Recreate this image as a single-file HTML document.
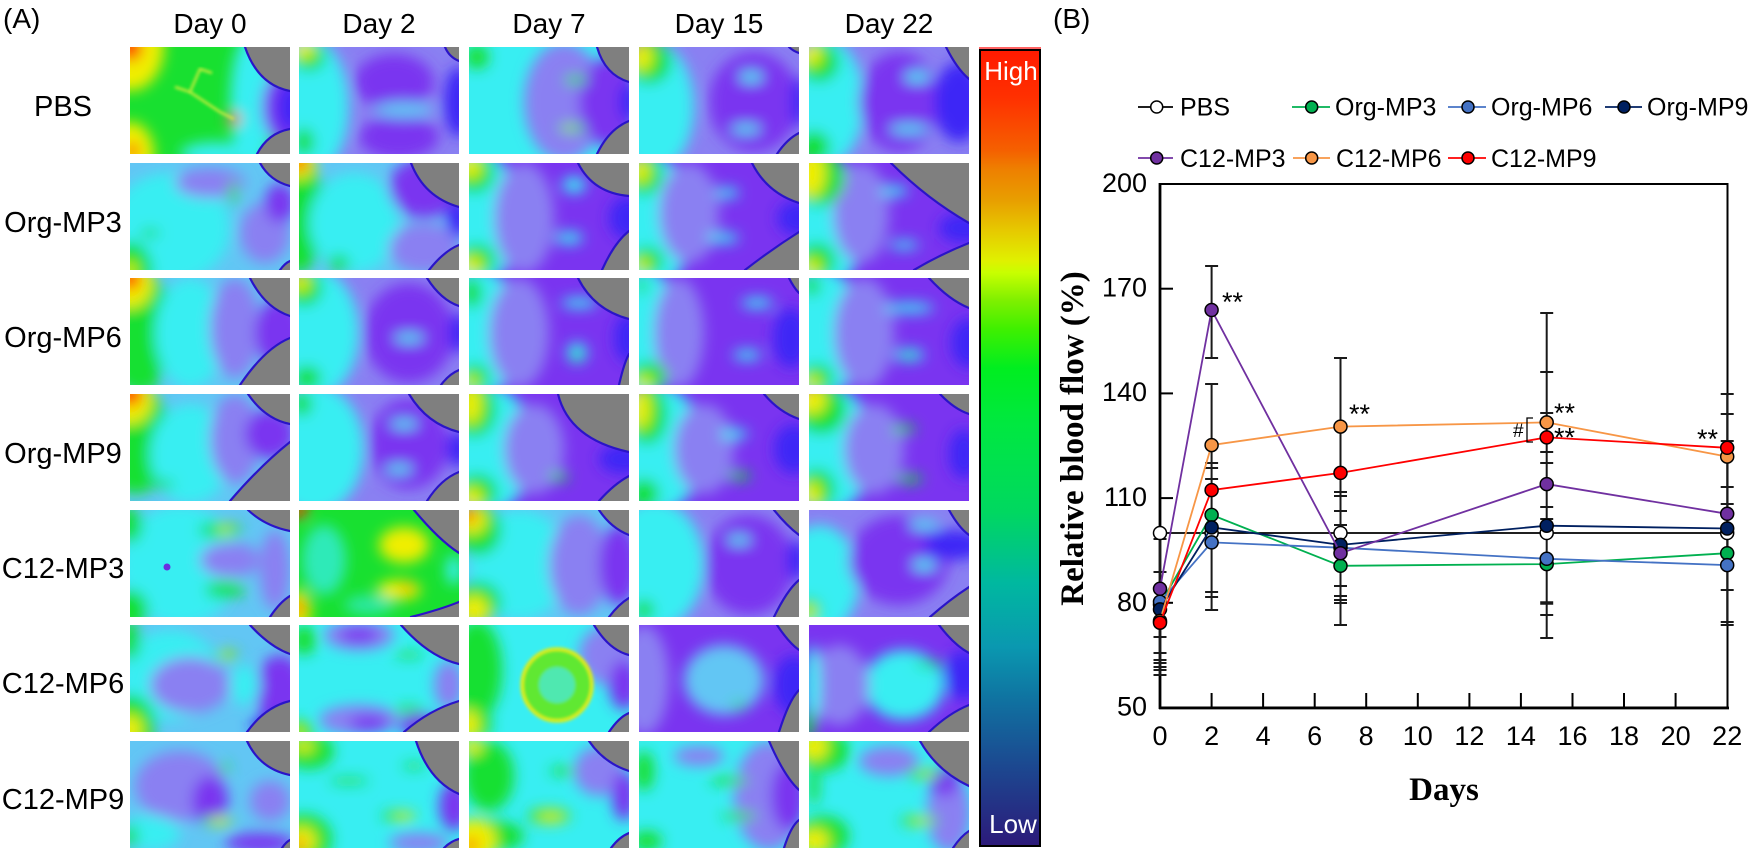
<!DOCTYPE html>
<html><head><meta charset="utf-8"><style>
html,body{margin:0;padding:0;background:#fff;}
body{width:1750px;height:849px;overflow:hidden;position:relative;}
svg{position:absolute;left:0;top:0;}
.gy{fill:#7f7f7f;stroke:#2a14c8;stroke-width:2.2;}
.t{font-family:"Liberation Sans",Arial,sans-serif;fill:#000;}
.s{font-family:"Liberation Serif","Times New Roman",serif;font-weight:bold;fill:#000;}
</style></head><body>
<svg width="1750" height="849" viewBox="0 0 1750 849" xmlns="http://www.w3.org/2000/svg">
<defs>
<clipPath id="ic"><rect width="160" height="107"/></clipPath>
<filter id="f" x="-30%" y="-30%" width="160%" height="160%"><feGaussianBlur stdDeviation="7"/></filter>
<filter id="f2"><feGaussianBlur stdDeviation="1.5"/></filter>
<linearGradient id="cb" x1="0" y1="0" x2="0" y2="1">
<stop offset="0" stop-color="#ff1a00"/><stop offset="0.06" stop-color="#ff3000"/><stop offset="0.126" stop-color="#f56000"/><stop offset="0.15" stop-color="#ee8000"/><stop offset="0.19" stop-color="#e8a000"/><stop offset="0.226" stop-color="#e6c800"/><stop offset="0.264" stop-color="#e0f000"/><stop offset="0.28" stop-color="#c8ff00"/><stop offset="0.314" stop-color="#80f000"/><stop offset="0.35" stop-color="#40f000"/><stop offset="0.40" stop-color="#00ee20"/><stop offset="0.47" stop-color="#00e840"/><stop offset="0.58" stop-color="#00d860"/><stop offset="0.67" stop-color="#00b8a0"/><stop offset="0.75" stop-color="#0a98b0"/><stop offset="0.82" stop-color="#1070a0"/><stop offset="0.90" stop-color="#1c4890"/><stop offset="1" stop-color="#2c1a7a"/>
</linearGradient>
</defs>

<!-- Panel A labels -->
<text class="t" x="3" y="28" font-size="28">(A)</text>
<text class="t" x="210" y="33" font-size="28" text-anchor="middle">Day 0</text>
<text class="t" x="379" y="33" font-size="28" text-anchor="middle">Day 2</text>
<text class="t" x="549" y="33" font-size="28" text-anchor="middle">Day 7</text>
<text class="t" x="719" y="33" font-size="28" text-anchor="middle">Day 15</text>
<text class="t" x="889" y="33" font-size="28" text-anchor="middle">Day 22</text>
<text class="t" x="63" y="116" font-size="29" text-anchor="middle">PBS</text>
<text class="t" x="63" y="232" font-size="29" text-anchor="middle">Org-MP3</text>
<text class="t" x="63" y="347" font-size="29" text-anchor="middle">Org-MP6</text>
<text class="t" x="63" y="463" font-size="29" text-anchor="middle">Org-MP9</text>
<text class="t" x="63" y="578" font-size="29" text-anchor="middle">C12-MP3</text>
<text class="t" x="63" y="693" font-size="29" text-anchor="middle">C12-MP6</text>
<text class="t" x="63" y="809" font-size="29" text-anchor="middle">C12-MP9</text>

<!-- Row 1 PBS -->
<g transform="translate(130,47)"><g clip-path="url(#ic)"><rect width="160" height="107" fill="#18e030"/><g filter="url(#f)">
<ellipse cx="0" cy="0" rx="34" ry="44" fill="#f0ee00"/><ellipse cx="0" cy="0" rx="12" ry="14" fill="#ff2a00"/><ellipse cx="0" cy="107" rx="24" ry="32" fill="#f0ee00"/><ellipse cx="2" cy="104" rx="6" ry="8" fill="#ff2a00"/><ellipse cx="122" cy="55" rx="22" ry="70" fill="#38eef2"/><ellipse cx="85" cy="107" rx="35" ry="12" fill="#38eef2"/><ellipse cx="160" cy="60" rx="28" ry="40" fill="#7a34f0"/><ellipse cx="160" cy="60" rx="12" ry="25" fill="#3c26f6"/><ellipse cx="104" cy="72" rx="7" ry="6" fill="#ff2a00"/></g>
<polyline points="45,40 60,45 75,55 90,65 104,72" fill="none" stroke="#e8f040" stroke-width="2" filter="url(#f2)"/><polyline points="60,45 70,22 82,26" fill="none" stroke="#e8f040" stroke-width="2" filter="url(#f2)"/>
<path class="gy" d="M115 -4 L115 0 Q128 38 160 44 L164 44 L164 -4Z"/><path class="gy" d="M127 111 L127 107 Q138 86 160 82 L164 82 L164 111Z"/></g></g>

<g transform="translate(299,47)"><g clip-path="url(#ic)"><rect width="160" height="107" fill="#8a80f2"/><g filter="url(#f)">
<ellipse cx="10" cy="60" rx="40" ry="70" fill="#38eef2"/><ellipse cx="10" cy="10" rx="16" ry="14" fill="#18e030"/><ellipse cx="5" cy="3" rx="10" ry="8" fill="#f0ee00"/><ellipse cx="5" cy="95" rx="10" ry="14" fill="#18e030"/><ellipse cx="95" cy="35" rx="40" ry="28" fill="#7a34f0"/><ellipse cx="100" cy="90" rx="40" ry="22" fill="#7a34f0"/><ellipse cx="105" cy="63" rx="30" ry="8" fill="#62c6f4"/><ellipse cx="160" cy="55" rx="15" ry="35" fill="#3c26f6"/></g>
<path class="gy" d="M146 -4 L146 0 Q150 10 160 14 L164 14 L164 -4Z"/></g></g>

<g transform="translate(469,47)"><g clip-path="url(#ic)"><rect width="160" height="107" fill="#38eef2"/><g filter="url(#f)">
<ellipse cx="8" cy="10" rx="12" ry="12" fill="#18e030"/><ellipse cx="95" cy="55" rx="40" ry="60" fill="#8a80f2"/><ellipse cx="140" cy="55" rx="30" ry="45" fill="#7a34f0"/><ellipse cx="160" cy="55" rx="10" ry="20" fill="#3c26f6"/><ellipse cx="107" cy="33" rx="12" ry="4" fill="#18e030"/><ellipse cx="103" cy="81" rx="14" ry="4" fill="#18e030"/><ellipse cx="100" cy="81" rx="5" ry="2" fill="#f0ee00"/></g>
<path class="gy" d="M128 -4 L128 0 Q136 28 160 35 L164 35 L164 -4Z"/><path class="gy" d="M128 111 L128 107 Q140 82 160 74 L164 74 L164 111Z"/></g></g>

<g transform="translate(639,47)"><g clip-path="url(#ic)"><rect width="160" height="107" fill="#8a80f2"/><g filter="url(#f)">
<ellipse cx="15" cy="60" rx="40" ry="65" fill="#38eef2"/><ellipse cx="10" cy="15" rx="22" ry="22" fill="#18e030"/><ellipse cx="3" cy="10" rx="10" ry="14" fill="#f0ee00"/><ellipse cx="115" cy="55" rx="45" ry="50" fill="#7a34f0"/><ellipse cx="112" cy="30" rx="12" ry="5" fill="#38eef2"/><ellipse cx="107" cy="82" rx="15" ry="4" fill="#38eef2"/><ellipse cx="160" cy="55" rx="8" ry="25" fill="#3c26f6"/></g>
<path class="gy" d="M150 -4 L150 0 Q154 4 160 6 L164 6 L164 -4Z"/><path class="gy" d="M138 111 L138 107 Q148 92 160 86 L164 86 L164 111Z"/></g></g>

<g transform="translate(809,47)"><g clip-path="url(#ic)"><rect width="160" height="107" fill="#8a80f2"/><g filter="url(#f)">
<ellipse cx="15" cy="55" rx="40" ry="65" fill="#38eef2"/><ellipse cx="10" cy="15" rx="20" ry="20" fill="#18e030"/><ellipse cx="3" cy="8" rx="9" ry="11" fill="#f0ee00"/><ellipse cx="5" cy="100" rx="16" ry="16" fill="#18e030"/><ellipse cx="90" cy="55" rx="40" ry="50" fill="#7a34f0"/><ellipse cx="150" cy="55" rx="25" ry="40" fill="#3c26f6"/><ellipse cx="108" cy="30" rx="13" ry="5" fill="#38eef2"/><ellipse cx="100" cy="82" rx="20" ry="4" fill="#38eef2"/></g>
<path class="gy" d="M137 -4 L137 0 Q148 22 160 32 L164 32 L164 -4Z"/></g></g>

<!-- Row 2 Org-MP3 -->
<g transform="translate(130,163)"><g clip-path="url(#ic)"><rect width="160" height="107" fill="#62c6f4"/><g filter="url(#f)">
<ellipse cx="40" cy="65" rx="60" ry="55" fill="#38eef2"/><ellipse cx="80" cy="20" rx="35" ry="15" fill="#8a80f2"/><ellipse cx="135" cy="70" rx="25" ry="30" fill="#8a80f2"/><ellipse cx="0" cy="107" rx="22" ry="28" fill="#18e030"/><ellipse cx="0" cy="107" rx="6" ry="8" fill="#f0ee00"/><ellipse cx="103" cy="30" rx="4" ry="12" fill="#18e030"/><ellipse cx="20" cy="70" rx="10" ry="4" fill="#18e030"/><ellipse cx="150" cy="40" rx="15" ry="20" fill="#7a34f0"/></g>
<path class="gy" d="M130 -4 L130 0 Q140 18 160 23 L164 23 L164 -4Z"/><path class="gy" d="M150 111 L150 107 Q155 100 160 98 L164 98 L164 111Z"/></g></g>

<g transform="translate(299,163)"><g clip-path="url(#ic)"><rect width="160" height="107" fill="#62c6f4"/><g filter="url(#f)">
<ellipse cx="0" cy="50" rx="25" ry="60" fill="#18e030"/><ellipse cx="0" cy="0" rx="16" ry="16" fill="#f0ee00"/><ellipse cx="0" cy="0" rx="8" ry="8" fill="#ff2a00"/><ellipse cx="55" cy="60" rx="45" ry="50" fill="#38eef2"/><ellipse cx="125" cy="25" rx="35" ry="30" fill="#7a34f0"/><ellipse cx="125" cy="85" rx="35" ry="25" fill="#8a80f2"/><ellipse cx="160" cy="55" rx="12" ry="20" fill="#3c26f6"/><ellipse cx="40" cy="100" rx="10" ry="8" fill="#18e030"/></g>
<path class="gy" d="M112 -4 L112 0 Q125 34 160 44 L164 44 L164 -4Z"/><path class="gy" d="M130 111 L130 107 Q145 88 160 82 L164 82 L164 111Z"/></g></g>

<g transform="translate(469,163)"><g clip-path="url(#ic)"><rect width="160" height="107" fill="#7a34f0"/><g filter="url(#f)">
<ellipse cx="5" cy="55" rx="45" ry="70" fill="#38eef2"/><ellipse cx="55" cy="55" rx="30" ry="55" fill="#8a80f2"/><ellipse cx="5" cy="10" rx="20" ry="20" fill="#18e030"/><ellipse cx="2" cy="5" rx="10" ry="10" fill="#f0ee00"/><ellipse cx="8" cy="97" rx="18" ry="16" fill="#18e030"/><ellipse cx="3" cy="102" rx="10" ry="8" fill="#f0ee00"/><ellipse cx="105" cy="22" rx="12" ry="8" fill="#38eef2"/><ellipse cx="100" cy="75" rx="14" ry="6" fill="#38eef2"/><ellipse cx="160" cy="55" rx="20" ry="22" fill="#3c26f6"/></g>
<path class="gy" d="M109 -4 L109 0 Q124 30 160 33 L164 33 L164 -4Z"/><path class="gy" d="M133 111 L133 107 Q145 80 160 68 L164 68 L164 111Z"/></g></g>

<g transform="translate(639,163)"><g clip-path="url(#ic)"><rect width="160" height="107" fill="#7a34f0"/><g filter="url(#f)">
<ellipse cx="8" cy="60" rx="45" ry="70" fill="#38eef2"/><ellipse cx="50" cy="50" rx="30" ry="50" fill="#8a80f2"/><ellipse cx="5" cy="12" rx="18" ry="20" fill="#18e030"/><ellipse cx="2" cy="8" rx="8" ry="12" fill="#f0ee00"/><ellipse cx="8" cy="98" rx="16" ry="14" fill="#18e030"/><ellipse cx="3" cy="102" rx="7" ry="6" fill="#f0ee00"/><ellipse cx="88" cy="30" rx="12" ry="5" fill="#38eef2"/><ellipse cx="84" cy="75" rx="16" ry="5" fill="#38eef2"/><ellipse cx="160" cy="55" rx="22" ry="18" fill="#3c26f6"/></g>
<path class="gy" d="M113 -4 L113 0 Q128 30 160 40 L164 40 L164 -4Z"/><path class="gy" d="M106 111 L106 107 Q133 86 160 69 L164 69 L164 111Z"/></g></g>

<g transform="translate(809,163)"><g clip-path="url(#ic)"><rect width="160" height="107" fill="#7a34f0"/><g filter="url(#f)">
<ellipse cx="10" cy="60" rx="45" ry="70" fill="#38eef2"/><ellipse cx="52" cy="50" rx="28" ry="50" fill="#8a80f2"/><ellipse cx="10" cy="15" rx="26" ry="28" fill="#18e030"/><ellipse cx="2" cy="10" rx="14" ry="24" fill="#f0ee00"/><ellipse cx="8" cy="98" rx="18" ry="18" fill="#18e030"/><ellipse cx="3" cy="104" rx="8" ry="8" fill="#f0ee00"/><ellipse cx="85" cy="28" rx="14" ry="5" fill="#38eef2"/><ellipse cx="95" cy="82" rx="15" ry="4" fill="#38eef2"/><ellipse cx="155" cy="65" rx="25" ry="15" fill="#3c26f6"/></g>
<path class="gy" d="M82 -4 L82 0 Q118 36 160 60 L164 60 L164 -4Z"/><path class="gy" d="M105 111 L105 107 Q130 92 160 80 L164 80 L164 111Z"/></g></g>

<!-- Row 3 Org-MP6 -->
<g transform="translate(130,278)"><g clip-path="url(#ic)"><rect width="160" height="107" fill="#62c6f4"/><g filter="url(#f)">
<ellipse cx="5" cy="50" rx="38" ry="60" fill="#18e030"/><ellipse cx="0" cy="5" rx="22" ry="25" fill="#f0ee00"/><ellipse cx="0" cy="0" rx="10" ry="12" fill="#ff2a00"/><ellipse cx="60" cy="55" rx="35" ry="55" fill="#38eef2"/><ellipse cx="105" cy="50" rx="25" ry="50" fill="#8a80f2"/><ellipse cx="150" cy="55" rx="25" ry="35" fill="#7a34f0"/><ellipse cx="10" cy="100" rx="20" ry="15" fill="#18e030"/></g>
<path class="gy" d="M120 -4 L120 0 Q135 30 160 38 L164 38 L164 -4Z"/><path class="gy" d="M110 111 L110 107 Q135 70 160 60 L164 60 L164 111Z"/></g></g>

<g transform="translate(299,278)"><g clip-path="url(#ic)"><rect width="160" height="107" fill="#8a80f2"/><g filter="url(#f)">
<ellipse cx="15" cy="55" rx="45" ry="65" fill="#38eef2"/><ellipse cx="5" cy="10" rx="18" ry="18" fill="#18e030"/><ellipse cx="2" cy="5" rx="8" ry="8" fill="#f0ee00"/><ellipse cx="8" cy="100" rx="14" ry="12" fill="#18e030"/><ellipse cx="110" cy="55" rx="45" ry="50" fill="#7a34f0"/><ellipse cx="160" cy="55" rx="10" ry="20" fill="#3c26f6"/><ellipse cx="110" cy="60" rx="15" ry="4" fill="#38eef2"/></g>
<path class="gy" d="M128 -4 L128 0 Q142 22 160 28 L164 28 L164 -4Z"/><path class="gy" d="M142 111 L142 107 Q150 96 160 92 L164 92 L164 111Z"/></g></g>

<g transform="translate(469,278)"><g clip-path="url(#ic)"><rect width="160" height="107" fill="#7a34f0"/><g filter="url(#f)">
<ellipse cx="8" cy="55" rx="45" ry="65" fill="#38eef2"/><ellipse cx="50" cy="55" rx="30" ry="55" fill="#8a80f2"/><ellipse cx="3" cy="15" rx="10" ry="15" fill="#18e030"/><ellipse cx="6" cy="100" rx="14" ry="14" fill="#18e030"/><ellipse cx="2" cy="104" rx="6" ry="6" fill="#f0ee00"/><ellipse cx="110" cy="25" rx="18" ry="5" fill="#38eef2"/><ellipse cx="108" cy="75" rx="10" ry="10" fill="#38eef2"/><ellipse cx="108" cy="78" rx="4" ry="4" fill="#18e030"/><ellipse cx="160" cy="60" rx="15" ry="25" fill="#3c26f6"/></g>
<path class="gy" d="M109 -4 L109 0 Q125 32 160 41 L164 41 L164 -4Z"/><path class="gy" d="M150 111 L150 107 Q155 85 160 76 L164 76 L164 111Z"/></g></g>

<g transform="translate(639,278)"><g clip-path="url(#ic)"><rect width="160" height="107" fill="#7a34f0"/><g filter="url(#f)">
<ellipse cx="5" cy="55" rx="35" ry="65" fill="#38eef2"/><ellipse cx="40" cy="55" rx="25" ry="55" fill="#8a80f2"/><ellipse cx="10" cy="98" rx="18" ry="14" fill="#18e030"/><ellipse cx="5" cy="104" rx="8" ry="6" fill="#f0ee00"/><ellipse cx="3" cy="8" rx="5" ry="8" fill="#18e030"/><ellipse cx="118" cy="25" rx="16" ry="5" fill="#38eef2"/><ellipse cx="108" cy="77" rx="14" ry="5" fill="#38eef2"/><ellipse cx="152" cy="60" rx="18" ry="30" fill="#3c26f6"/></g>
<path class="gy" d="M150 -4 L150 0 Q155 10 160 15 L164 15 L164 -4Z"/></g></g>

<g transform="translate(809,278)"><g clip-path="url(#ic)"><rect width="160" height="107" fill="#7a34f0"/><g filter="url(#f)">
<ellipse cx="10" cy="55" rx="45" ry="65" fill="#38eef2"/><ellipse cx="55" cy="55" rx="30" ry="55" fill="#8a80f2"/><ellipse cx="3" cy="8" rx="8" ry="10" fill="#18e030"/><ellipse cx="8" cy="100" rx="16" ry="14" fill="#18e030"/><ellipse cx="3" cy="104" rx="8" ry="6" fill="#f0ee00"/><ellipse cx="100" cy="30" rx="25" ry="5" fill="#38eef2"/><ellipse cx="100" cy="77" rx="15" ry="6" fill="#38eef2"/><ellipse cx="100" cy="78" rx="4" ry="3" fill="#18e030"/><ellipse cx="160" cy="65" rx="18" ry="25" fill="#3c26f6"/></g>
<path class="gy" d="M120 -4 L120 0 Q140 22 160 30 L164 30 L164 -4Z"/></g></g>

<!-- Row 4 Org-MP9 -->
<g transform="translate(130,394)"><g clip-path="url(#ic)"><rect width="160" height="107" fill="#62c6f4"/><g filter="url(#f)">
<ellipse cx="5" cy="45" rx="35" ry="55" fill="#18e030"/><ellipse cx="0" cy="5" rx="22" ry="25" fill="#f0ee00"/><ellipse cx="0" cy="0" rx="12" ry="12" fill="#ff2a00"/><ellipse cx="60" cy="60" rx="40" ry="50" fill="#38eef2"/><ellipse cx="105" cy="45" rx="25" ry="45" fill="#8a80f2"/><ellipse cx="140" cy="40" rx="25" ry="25" fill="#7a34f0"/><ellipse cx="30" cy="90" rx="15" ry="4" fill="#18e030"/></g>
<path class="gy" d="M118 -4 L118 0 Q135 25 160 30 L164 30 L164 -4Z"/><path class="gy" d="M100 111 L100 107 Q130 72 160 48 L164 48 L164 111Z"/></g></g>

<g transform="translate(299,394)"><g clip-path="url(#ic)"><rect width="160" height="107" fill="#8a80f2"/><g filter="url(#f)">
<ellipse cx="15" cy="55" rx="50" ry="65" fill="#38eef2"/><ellipse cx="3" cy="10" rx="10" ry="12" fill="#18e030"/><ellipse cx="110" cy="50" rx="40" ry="45" fill="#7a34f0"/><ellipse cx="160" cy="55" rx="12" ry="18" fill="#3c26f6"/><ellipse cx="105" cy="30" rx="14" ry="4" fill="#38eef2"/><ellipse cx="100" cy="75" rx="14" ry="4" fill="#38eef2"/></g>
<path class="gy" d="M110 -4 L110 0 Q128 30 160 38 L164 38 L164 -4Z"/><path class="gy" d="M128 111 L128 107 Q142 85 160 78 L164 78 L164 111Z"/></g></g>

<g transform="translate(469,394)"><g clip-path="url(#ic)"><rect width="160" height="107" fill="#7a34f0"/><g filter="url(#f)">
<ellipse cx="15" cy="55" rx="50" ry="65" fill="#38eef2"/><ellipse cx="65" cy="55" rx="30" ry="45" fill="#8a80f2"/><ellipse cx="5" cy="15" rx="22" ry="28" fill="#18e030"/><ellipse cx="2" cy="10" rx="10" ry="20" fill="#f0ee00"/><ellipse cx="8" cy="98" rx="20" ry="18" fill="#18e030"/><ellipse cx="3" cy="104" rx="10" ry="10" fill="#f0ee00"/><ellipse cx="90" cy="83" rx="10" ry="4" fill="#18e030"/><ellipse cx="155" cy="65" rx="25" ry="15" fill="#3c26f6"/></g>
<path class="gy" d="M89 -4 L89 0 Q100 45 160 58 L164 58 L164 -4Z"/><path class="gy" d="M130 111 L130 107 Q145 90 160 82 L164 82 L164 111Z"/></g></g>

<g transform="translate(639,394)"><g clip-path="url(#ic)"><rect width="160" height="107" fill="#7a34f0"/><g filter="url(#f)">
<ellipse cx="15" cy="55" rx="50" ry="65" fill="#38eef2"/><ellipse cx="65" cy="55" rx="30" ry="45" fill="#8a80f2"/><ellipse cx="8" cy="20" rx="20" ry="30" fill="#18e030"/><ellipse cx="2" cy="15" rx="9" ry="20" fill="#f0ee00"/><ellipse cx="5" cy="100" rx="15" ry="15" fill="#18e030"/><ellipse cx="100" cy="82" rx="12" ry="4" fill="#18e030"/><ellipse cx="95" cy="40" rx="14" ry="5" fill="#38eef2"/><ellipse cx="155" cy="55" rx="20" ry="25" fill="#3c26f6"/></g>
<path class="gy" d="M125 -4 L125 0 Q140 18 160 25 L164 25 L164 -4Z"/></g></g>

<g transform="translate(809,394)"><g clip-path="url(#ic)"><rect width="160" height="107" fill="#7a34f0"/><g filter="url(#f)">
<ellipse cx="15" cy="55" rx="50" ry="65" fill="#38eef2"/><ellipse cx="65" cy="55" rx="30" ry="45" fill="#8a80f2"/><ellipse cx="12" cy="15" rx="25" ry="25" fill="#18e030"/><ellipse cx="3" cy="6" rx="14" ry="14" fill="#f0ee00"/><ellipse cx="8" cy="95" rx="18" ry="20" fill="#18e030"/><ellipse cx="3" cy="100" rx="8" ry="12" fill="#f0ee00"/><ellipse cx="95" cy="35" rx="12" ry="4" fill="#18e030"/><ellipse cx="100" cy="85" rx="14" ry="4" fill="#18e030"/><ellipse cx="155" cy="60" rx="15" ry="25" fill="#3c26f6"/></g>
<path class="gy" d="M131 -4 L131 0 Q145 15 160 20 L164 20 L164 -4Z"/></g></g>

<!-- Row 5 C12-MP3 -->
<g transform="translate(130,510)"><g clip-path="url(#ic)"><rect width="160" height="107" fill="#62c6f4"/><g filter="url(#f)">
<ellipse cx="50" cy="55" rx="60" ry="60" fill="#38eef2"/><ellipse cx="90" cy="20" rx="22" ry="7" fill="#18e030"/><ellipse cx="95" cy="20" rx="6" ry="3" fill="#f0ee00"/><ellipse cx="95" cy="80" rx="20" ry="8" fill="#18e030"/><ellipse cx="0" cy="100" rx="18" ry="20" fill="#18e030"/><ellipse cx="0" cy="15" rx="12" ry="18" fill="#18e030"/><ellipse cx="100" cy="50" rx="30" ry="18" fill="#8a80f2"/><ellipse cx="145" cy="60" rx="15" ry="40" fill="#8a80f2"/></g>
<circle cx="37" cy="57" r="3.5" fill="#6a2ee0"/>
<path class="gy" d="M118 -4 L118 0 Q135 16 160 21 L164 21 L164 -4Z"/><path class="gy" d="M140 111 L140 107 Q150 92 160 86 L164 86 L164 111Z"/></g></g>

<g transform="translate(299,510)"><g clip-path="url(#ic)"><rect width="160" height="107" fill="#18e030"/><g filter="url(#f)">
<ellipse cx="25" cy="50" rx="22" ry="35" fill="#38eef2" opacity="0.7"/><ellipse cx="70" cy="95" rx="25" ry="10" fill="#38eef2" opacity="0.6"/><ellipse cx="105" cy="35" rx="25" ry="18" fill="#f0ee00"/><ellipse cx="100" cy="80" rx="22" ry="10" fill="#f0ee00"/><ellipse cx="108" cy="78" rx="5" ry="3" fill="#ff2a00"/><ellipse cx="0" cy="0" rx="8" ry="8" fill="#ff2a00"/><ellipse cx="0" cy="100" rx="12" ry="20" fill="#f0ee00"/><ellipse cx="0" cy="98" rx="5" ry="8" fill="#ff2a00"/><ellipse cx="155" cy="60" rx="8" ry="15" fill="#38eef2"/></g>
<path class="gy" d="M115 -4 L115 0 Q140 30 160 43 L164 43 L164 -4Z"/><path class="gy" d="M112 111 L112 107 Q140 100 160 92 L164 92 L164 111Z"/></g></g>

<g transform="translate(469,510)"><g clip-path="url(#ic)"><rect width="160" height="107" fill="#62c6f4"/><g filter="url(#f)">
<ellipse cx="50" cy="55" rx="50" ry="55" fill="#38eef2"/><ellipse cx="10" cy="20" rx="22" ry="25" fill="#18e030"/><ellipse cx="3" cy="10" rx="14" ry="14" fill="#f0ee00"/><ellipse cx="0" cy="5" rx="6" ry="8" fill="#ff2a00"/><ellipse cx="10" cy="92" rx="22" ry="20" fill="#18e030"/><ellipse cx="5" cy="100" rx="14" ry="14" fill="#f0ee00"/><ellipse cx="110" cy="55" rx="30" ry="50" fill="#8a80f2"/><ellipse cx="150" cy="55" rx="20" ry="40" fill="#7a34f0"/></g>
<path class="gy" d="M130 -4 L130 0 Q142 18 160 25 L164 25 L164 -4Z"/><path class="gy" d="M140 111 L140 107 Q150 94 160 88 L164 88 L164 111Z"/></g></g>

<g transform="translate(639,510)"><g clip-path="url(#ic)"><rect width="160" height="107" fill="#8a80f2"/><g filter="url(#f)">
<ellipse cx="15" cy="55" rx="50" ry="65" fill="#38eef2"/><ellipse cx="110" cy="55" rx="45" ry="50" fill="#7a34f0"/><ellipse cx="158" cy="50" rx="10" ry="20" fill="#3c26f6"/><ellipse cx="5" cy="100" rx="10" ry="10" fill="#18e030"/><ellipse cx="100" cy="30" rx="12" ry="4" fill="#38eef2"/></g>
<path class="gy" d="M135 -4 L135 0 Q148 16 160 25 L164 25 L164 -4Z"/><path class="gy" d="M135 111 L135 107 Q148 80 160 70 L164 70 L164 111Z"/></g></g>

<g transform="translate(809,510)"><g clip-path="url(#ic)"><rect width="160" height="107" fill="#8a80f2"/><g filter="url(#f)">
<ellipse cx="10" cy="70" rx="40" ry="55" fill="#38eef2"/><ellipse cx="0" cy="100" rx="12" ry="12" fill="#18e030"/><ellipse cx="0" cy="102" rx="6" ry="6" fill="#f0ee00"/><ellipse cx="90" cy="50" rx="50" ry="45" fill="#7a34f0"/><ellipse cx="145" cy="35" rx="30" ry="15" fill="#3c26f6"/><ellipse cx="115" cy="55" rx="12" ry="5" fill="#38eef2"/><ellipse cx="115" cy="15" rx="15" ry="4" fill="#38eef2"/></g>
<path class="gy" d="M140 -4 L140 0 Q150 18 160 25 L164 25 L164 -4Z"/><path class="gy" d="M121 111 L121 107 Q140 90 160 77 L164 77 L164 111Z"/></g></g>

<!-- Row 6 C12-MP6 -->
<g transform="translate(130,625)"><g clip-path="url(#ic)"><rect width="160" height="107" fill="#62c6f4"/><g filter="url(#f)">
<ellipse cx="40" cy="50" rx="50" ry="45" fill="#38eef2"/><ellipse cx="60" cy="60" rx="40" ry="28" fill="#8a80f2"/><ellipse cx="0" cy="100" rx="25" ry="30" fill="#18e030"/><ellipse cx="0" cy="104" rx="12" ry="14" fill="#f0ee00"/><ellipse cx="0" cy="15" rx="10" ry="20" fill="#18e030"/><ellipse cx="97" cy="30" rx="12" ry="5" fill="#18e030"/><ellipse cx="97" cy="30" rx="5" ry="2.5" fill="#f0ee00"/><ellipse cx="150" cy="65" rx="25" ry="35" fill="#7a34f0"/><ellipse cx="150" cy="100" rx="30" ry="10" fill="#3c26f6"/><ellipse cx="115" cy="60" rx="15" ry="20" fill="#38eef2"/></g>
<path class="gy" d="M120 -4 L120 0 Q140 22 160 29 L164 29 L164 -4Z"/><path class="gy" d="M117 111 L117 107 Q135 82 160 76 L164 76 L164 111Z"/></g></g>

<g transform="translate(299,625)"><g clip-path="url(#ic)"><rect width="160" height="107" fill="#38eef2"/><g filter="url(#f)">
<ellipse cx="60" cy="10" rx="35" ry="15" fill="#8a80f2"/><ellipse cx="60" cy="10" rx="20" ry="8" fill="#7a34f0"/><ellipse cx="60" cy="95" rx="40" ry="15" fill="#8a80f2"/><ellipse cx="70" cy="98" rx="20" ry="8" fill="#7a34f0"/><ellipse cx="150" cy="60" rx="15" ry="25" fill="#8a80f2"/><ellipse cx="110" cy="30" rx="15" ry="3" fill="#18e030"/><ellipse cx="110" cy="85" rx="15" ry="4" fill="#18e030"/><ellipse cx="5" cy="15" rx="12" ry="15" fill="#18e030"/><ellipse cx="0" cy="107" rx="15" ry="12" fill="#18e030"/><ellipse cx="0" cy="107" rx="6" ry="5" fill="#f0ee00"/><ellipse cx="120" cy="100" rx="20" ry="12" fill="#7a34f0"/></g>
<path class="gy" d="M102 -4 L102 0 Q130 32 160 39 L164 39 L164 -4Z"/><path class="gy" d="M105 111 L105 107 Q130 85 160 76 L164 76 L164 111Z"/></g></g>

<g transform="translate(469,625)"><g clip-path="url(#ic)"><rect width="160" height="107" fill="#38eef2"/><g filter="url(#f)">
<ellipse cx="8" cy="45" rx="25" ry="50" fill="#18e030"/><ellipse cx="5" cy="100" rx="18" ry="15" fill="#18e030"/><ellipse cx="0" cy="100" rx="10" ry="15" fill="#f0ee00"/><ellipse cx="140" cy="30" rx="30" ry="30" fill="#8a80f2"/><ellipse cx="155" cy="60" rx="15" ry="25" fill="#7a34f0"/></g>
<g filter="url(#f2)"><ellipse cx="88" cy="60" rx="35" ry="36" fill="#60e830" stroke="#f0ee00" stroke-width="3"/><ellipse cx="88" cy="60" rx="18" ry="18" fill="#50e8b0"/></g>
<path class="gy" d="M125 -4 L125 0 Q140 25 160 30 L164 30 L164 -4Z"/><path class="gy" d="M140 111 L140 107 Q150 92 160 88 L164 88 L164 111Z"/></g></g>

<g transform="translate(639,625)"><g clip-path="url(#ic)"><rect width="160" height="107" fill="#7a34f0"/><g filter="url(#f)">
<ellipse cx="85" cy="55" rx="40" ry="35" fill="#62c6f4"/><ellipse cx="5" cy="55" rx="25" ry="55" fill="#8a80f2"/><ellipse cx="155" cy="60" rx="20" ry="30" fill="#3c26f6"/><ellipse cx="100" cy="80" rx="8" ry="3" fill="#18e030"/></g>
<path class="gy" d="M138 -4 L138 0 Q150 18 160 25 L164 25 L164 -4Z"/><path class="gy" d="M140 111 L140 107 Q150 75 160 65 L164 65 L164 111Z"/></g></g>

<g transform="translate(809,625)"><g clip-path="url(#ic)"><rect width="160" height="107" fill="#7a34f0"/><g filter="url(#f)">
<ellipse cx="95" cy="60" rx="40" ry="35" fill="#38eef2"/><ellipse cx="30" cy="60" rx="30" ry="40" fill="#8a80f2"/><ellipse cx="3" cy="60" rx="8" ry="40" fill="#38eef2"/><ellipse cx="0" cy="100" rx="6" ry="15" fill="#18e030"/><ellipse cx="155" cy="50" rx="20" ry="25" fill="#3c26f6"/><ellipse cx="120" cy="40" rx="15" ry="3" fill="#18e030"/></g>
<path class="gy" d="M130 -4 L130 0 Q145 20 160 28 L164 28 L164 -4Z"/><path class="gy" d="M120 111 L120 107 Q140 88 160 80 L164 80 L164 111Z"/></g></g>

<!-- Row 7 C12-MP9 -->
<g transform="translate(130,741)"><g clip-path="url(#ic)"><rect width="160" height="107" fill="#62c6f4"/><g filter="url(#f)">
<ellipse cx="50" cy="45" rx="45" ry="35" fill="#8a80f2"/><ellipse cx="80" cy="60" rx="18" ry="25" fill="#7a34f0"/><ellipse cx="20" cy="92" rx="30" ry="18" fill="#38eef2"/><ellipse cx="88" cy="80" rx="16" ry="5" fill="#18e030"/><ellipse cx="90" cy="80" rx="10" ry="3" fill="#f0ee00"/><ellipse cx="130" cy="102" rx="35" ry="10" fill="#7a34f0"/><ellipse cx="95" cy="27" rx="4" ry="6" fill="#18e030"/><ellipse cx="140" cy="60" rx="20" ry="20" fill="#8a80f2"/><ellipse cx="0" cy="95" rx="8" ry="10" fill="#18e030"/></g>
<path class="gy" d="M117 -4 L117 0 Q130 28 160 34 L164 34 L164 -4Z"/><path class="gy" d="M152 111 L152 107 Q156 101 160 99 L164 99 L164 111Z"/></g></g>

<g transform="translate(299,741)"><g clip-path="url(#ic)"><rect width="160" height="107" fill="#38eef2"/><g filter="url(#f)">
<ellipse cx="10" cy="10" rx="25" ry="18" fill="#18e030"/><ellipse cx="5" cy="5" rx="10" ry="6" fill="#f0ee00"/><ellipse cx="5" cy="98" rx="28" ry="25" fill="#18e030"/><ellipse cx="3" cy="100" rx="14" ry="14" fill="#f0ee00"/><ellipse cx="0" cy="104" rx="5" ry="6" fill="#ff2a00"/><ellipse cx="100" cy="75" rx="18" ry="5" fill="#18e030"/><ellipse cx="105" cy="76" rx="10" ry="3" fill="#f0ee00"/><ellipse cx="50" cy="40" rx="20" ry="3" fill="#18e030"/><ellipse cx="115" cy="25" rx="12" ry="3" fill="#18e030"/><ellipse cx="155" cy="65" rx="15" ry="25" fill="#7a34f0"/><ellipse cx="120" cy="102" rx="30" ry="10" fill="#8a80f2"/></g>
<path class="gy" d="M117 -4 L117 0 Q130 40 160 53 L164 53 L164 -4Z"/><path class="gy" d="M145 111 L145 107 Q152 100 160 98 L164 98 L164 111Z"/></g></g>

<g transform="translate(469,741)"><g clip-path="url(#ic)"><rect width="160" height="107" fill="#38eef2"/><g filter="url(#f)">
<ellipse cx="20" cy="35" rx="25" ry="35" fill="#18e030"/><ellipse cx="3" cy="5" rx="10" ry="8" fill="#f0ee00"/><ellipse cx="25" cy="95" rx="30" ry="15" fill="#18e030"/><ellipse cx="5" cy="100" rx="22" ry="22" fill="#f0ee00"/><ellipse cx="2" cy="104" rx="6" ry="6" fill="#ff2a00"/><ellipse cx="80" cy="75" rx="22" ry="8" fill="#18e030"/><ellipse cx="82" cy="76" rx="14" ry="4" fill="#f0ee00"/><ellipse cx="95" cy="30" rx="15" ry="4" fill="#18e030"/><ellipse cx="130" cy="30" rx="25" ry="25" fill="#8a80f2"/><ellipse cx="155" cy="55" rx="12" ry="25" fill="#7a34f0"/></g>
<path class="gy" d="M120 -4 L120 0 Q135 22 160 30 L164 30 L164 -4Z"/><path class="gy" d="M142 111 L142 107 Q150 96 160 92 L164 92 L164 111Z"/></g></g>

<g transform="translate(639,741)"><g clip-path="url(#ic)"><rect width="160" height="107" fill="#38eef2"/><g filter="url(#f)">
<ellipse cx="130" cy="55" rx="35" ry="55" fill="#8a80f2"/><ellipse cx="150" cy="55" rx="18" ry="35" fill="#7a34f0"/><ellipse cx="90" cy="40" rx="20" ry="4" fill="#18e030"/><ellipse cx="100" cy="75" rx="18" ry="4" fill="#18e030"/><ellipse cx="5" cy="30" rx="10" ry="20" fill="#18e030"/><ellipse cx="8" cy="100" rx="15" ry="10" fill="#18e030"/><ellipse cx="60" cy="15" rx="25" ry="10" fill="#8a80f2"/></g>
<path class="gy" d="M130 -4 L130 0 Q145 35 160 49 L164 49 L164 -4Z"/><path class="gy" d="M145 111 L145 107 Q152 85 160 79 L164 79 L164 111Z"/></g></g>

<g transform="translate(809,741)"><g clip-path="url(#ic)"><rect width="160" height="107" fill="#38eef2"/><g filter="url(#f)">
<ellipse cx="15" cy="10" rx="25" ry="20" fill="#18e030"/><ellipse cx="5" cy="5" rx="14" ry="14" fill="#f0ee00"/><ellipse cx="15" cy="95" rx="25" ry="20" fill="#18e030"/><ellipse cx="5" cy="100" rx="15" ry="12" fill="#f0ee00"/><ellipse cx="5" cy="45" rx="5" ry="20" fill="#18e030"/><ellipse cx="80" cy="20" rx="30" ry="15" fill="#8a80f2"/><ellipse cx="140" cy="72" rx="22" ry="40" fill="#8a80f2"/><ellipse cx="135" cy="40" rx="15" ry="15" fill="#7a34f0"/><ellipse cx="115" cy="33" rx="18" ry="5" fill="#18e030"/><ellipse cx="118" cy="33" rx="8" ry="2" fill="#f0ee00"/><ellipse cx="110" cy="80" rx="20" ry="5" fill="#18e030"/><ellipse cx="112" cy="80" rx="10" ry="2.5" fill="#f0ee00"/></g>
<path class="gy" d="M111 -4 L111 0 Q128 30 160 45 L164 45 L164 -4Z"/><path class="gy" d="M144 111 L144 107 Q152 95 160 90 L164 90 L164 111Z"/></g></g>

<!-- Colorbar -->
<line x1="979" y1="48" x2="1041" y2="48" stroke="#ff3030" stroke-width="1.5"/>
<rect x="980" y="50" width="60" height="796" fill="url(#cb)" stroke="#000" stroke-width="2"/>
<text class="t" x="1011" y="80" font-size="26" text-anchor="middle" style="fill:#fff">High</text>
<text class="t" x="1013" y="833" font-size="26" text-anchor="middle" style="fill:#fff">Low</text>

<!-- Panel B -->
<text class="t" x="1053" y="28" font-size="28">(B)</text>

<!-- Legend -->
<g stroke-width="1.8">
<line x1="1138" y1="107" x2="1173" y2="107" stroke="#000"/><circle cx="1156.7" cy="107" r="6" fill="#fff" stroke="#000" stroke-width="1.5"/>
<line x1="1292" y1="107" x2="1330" y2="107" stroke="#00b050"/><circle cx="1311.7" cy="107" r="6" fill="#00b050" stroke="#000" stroke-width="1.5"/>
<line x1="1448" y1="107" x2="1486" y2="107" stroke="#4472c4"/><circle cx="1468" cy="107" r="6" fill="#4472c4" stroke="#000" stroke-width="1.5"/>
<line x1="1605" y1="107" x2="1642" y2="107" stroke="#002060"/><circle cx="1624" cy="107" r="6" fill="#002060" stroke="#000" stroke-width="1.5"/>
<line x1="1138" y1="158" x2="1173" y2="158" stroke="#7030a0"/><circle cx="1156.7" cy="158" r="6" fill="#7030a0" stroke="#000" stroke-width="1.5"/>
<line x1="1293" y1="158" x2="1330" y2="158" stroke="#f79646"/><circle cx="1311.7" cy="158" r="6" fill="#f79646" stroke="#000" stroke-width="1.5"/>
<line x1="1448" y1="158" x2="1486" y2="158" stroke="#ff0000"/><circle cx="1468" cy="158" r="6" fill="#ff0000" stroke="#000" stroke-width="1.5"/>
</g>
<g class="t" font-size="25">
<text x="1180" y="115.5">PBS</text><text x="1335" y="115.5">Org-MP3</text><text x="1491" y="115.5">Org-MP6</text><text x="1647" y="115.5">Org-MP9</text>
<text x="1180" y="167">C12-MP3</text><text x="1336" y="167">C12-MP6</text><text x="1491" y="167">C12-MP9</text>
</g>

<!-- Axes frame -->
<rect x="1160" y="184" width="567.5" height="523.5" fill="none" stroke="#000" stroke-width="2"/>
<line x1="1160" y1="183" x2="1160" y2="709" stroke="#000" stroke-width="2.8"/>
<line x1="1159" y1="708" x2="1729" y2="708" stroke="#000" stroke-width="2.8"/>
<g stroke="#000" stroke-width="2">
<line x1="1160" y1="288.7" x2="1173" y2="288.7"/><line x1="1160" y1="393.4" x2="1173" y2="393.4"/><line x1="1160" y1="498.1" x2="1173" y2="498.1"/><line x1="1160" y1="602.8" x2="1173" y2="602.8"/>
<line x1="1211.6" y1="693" x2="1211.6" y2="708"/><line x1="1263.1" y1="693" x2="1263.1" y2="708"/><line x1="1314.7" y1="693" x2="1314.7" y2="708"/><line x1="1366.2" y1="693" x2="1366.2" y2="708"/><line x1="1417.8" y1="693" x2="1417.8" y2="708"/><line x1="1469.4" y1="693" x2="1469.4" y2="708"/><line x1="1520.9" y1="693" x2="1520.9" y2="708"/><line x1="1572.5" y1="693" x2="1572.5" y2="708"/><line x1="1624" y1="693" x2="1624" y2="708"/><line x1="1675.6" y1="693" x2="1675.6" y2="708"/>
</g>
<g class="t" font-size="27" text-anchor="end">
<text x="1147" y="192">200</text><text x="1147" y="296.5">170</text><text x="1147" y="401">140</text><text x="1147" y="506">110</text><text x="1147" y="611">80</text><text x="1147" y="715.5">50</text>
</g>
<g class="t" font-size="27" text-anchor="middle">
<text x="1160" y="745">0</text><text x="1211.6" y="745">2</text><text x="1263.1" y="745">4</text><text x="1314.7" y="745">6</text><text x="1366.2" y="745">8</text><text x="1417.8" y="745">10</text><text x="1469.4" y="745">12</text><text x="1520.9" y="745">14</text><text x="1572.5" y="745">16</text><text x="1624" y="745">18</text><text x="1675.6" y="745">20</text><text x="1727.2" y="745">22</text>
</g>
<text class="s" x="1444" y="800" font-size="33" text-anchor="middle">Days</text>
<text class="s" transform="translate(1083,438.5) rotate(-90)" font-size="33" text-anchor="middle">Relative blood flow (%)</text>

<!-- Error bars -->
<g stroke="#1a1a1a" stroke-width="2">
<line x1="1160" y1="533" x2="1160" y2="675"/>
<path d="M1153.5 539h13M1153.5 572h13M1153.5 637h13M1153.5 653h13M1153.5 660h13M1153.5 663h13M1153.5 667h13M1153.5 670h13M1153.5 675h13"/>
<line x1="1211.6" y1="266" x2="1211.6" y2="358"/><line x1="1211.6" y1="384" x2="1211.6" y2="610"/>
<path d="M1205.1 266h13M1205.1 358h13M1205.1 384h13M1205.1 463h13M1205.1 468h13M1205.1 479h13M1205.1 592h13M1205.1 597h13M1205.1 610h13"/>
<line x1="1340.5" y1="358" x2="1340.5" y2="625"/>
<path d="M1334 358h13M1334 492h13M1334 496h13M1334 511h13M1334 525h13M1334 586h13M1334 596h13M1334 600h13M1334 603h13M1334 625h13"/>
<line x1="1546.7" y1="313" x2="1546.7" y2="638"/>
<path d="M1540.2 313h13M1540.2 372h13M1540.2 413h13M1540.2 452h13M1540.2 463h13M1540.2 507h13M1540.2 519h13M1540.2 615h13M1540.2 638h13"/>
<path d="M1540.2 603h13" stroke-width="3.5"/>
<line x1="1727.2" y1="394" x2="1727.2" y2="625"/>
<path d="M1720.7 394h13M1720.7 414h13M1720.7 441h13M1720.7 487h13M1720.7 504h13M1720.7 590h13M1720.7 622h13M1720.7 625h13"/>
</g>

<!-- Series -->
<polyline points="1160,533 1211.6,533 1340.5,533 1546.7,533 1727.2,533" fill="none" stroke="#000" stroke-width="1.8"/>
<g stroke="#000" stroke-width="1.5" fill="#fff"><circle cx="1160" cy="533" r="6.5"/><circle cx="1211.6" cy="533" r="6.5"/><circle cx="1340.5" cy="533" r="6.5"/><circle cx="1546.7" cy="533" r="6.5"/><circle cx="1727.2" cy="533" r="6.5"/></g>

<polyline points="1160,604.5 1211.6,514.9 1340.5,565.8 1546.7,564.1 1727.2,553.2" fill="none" stroke="#00b050" stroke-width="1.8"/>
<g stroke="#000" stroke-width="1.5" fill="#00b050"><circle cx="1160" cy="604.5" r="6.5"/><circle cx="1211.6" cy="514.9" r="6.5"/><circle cx="1340.5" cy="565.8" r="6.5"/><circle cx="1546.7" cy="564.1" r="6.5"/><circle cx="1727.2" cy="553.2" r="6.5"/></g>

<polyline points="1160,601.8 1211.6,542.4 1340.5,547.7 1546.7,558.8 1727.2,565.1" fill="none" stroke="#4472c4" stroke-width="1.8"/>
<g stroke="#000" stroke-width="1.5" fill="#4472c4"><circle cx="1160" cy="601.8" r="6.5"/><circle cx="1211.6" cy="542.4" r="6.5"/><circle cx="1340.5" cy="547.7" r="6.5"/><circle cx="1546.7" cy="558.8" r="6.5"/><circle cx="1727.2" cy="565.1" r="6.5"/></g>

<polyline points="1160,609.4 1211.6,527.4 1340.5,544.9 1546.7,525.7 1727.2,528.5" fill="none" stroke="#002060" stroke-width="1.8"/>
<g stroke="#000" stroke-width="1.5" fill="#002060"><circle cx="1160" cy="609.4" r="6.5"/><circle cx="1211.6" cy="527.4" r="6.5"/><circle cx="1340.5" cy="544.9" r="6.5"/><circle cx="1546.7" cy="525.7" r="6.5"/><circle cx="1727.2" cy="528.5" r="6.5"/></g>

<polyline points="1160,588.8 1211.6,310 1340.5,553.2 1546.7,484.1 1727.2,513.8" fill="none" stroke="#7030a0" stroke-width="1.8"/>
<g stroke="#000" stroke-width="1.5" fill="#7030a0"><circle cx="1160" cy="588.8" r="6.5"/><circle cx="1211.6" cy="310" r="6.5"/><circle cx="1340.5" cy="553.2" r="6.5"/><circle cx="1546.7" cy="484.1" r="6.5"/><circle cx="1727.2" cy="513.8" r="6.5"/></g>

<polyline points="1160,620.9 1211.6,445.1 1340.5,426.6 1546.7,422.4 1727.2,456.6" fill="none" stroke="#f79646" stroke-width="1.8"/>
<g stroke="#000" stroke-width="1.5" fill="#f79646"><circle cx="1160" cy="620.9" r="6.5"/><circle cx="1211.6" cy="445.1" r="6.5"/><circle cx="1340.5" cy="426.6" r="6.5"/><circle cx="1546.7" cy="422.4" r="6.5"/><circle cx="1727.2" cy="456.6" r="6.5"/></g>

<polyline points="1160,622.7 1211.6,490.1 1340.5,472.9 1546.7,437.4 1727.2,447.8" fill="none" stroke="#ff0000" stroke-width="1.8"/>
<g stroke="#000" stroke-width="1.5" fill="#ff0000"><circle cx="1160" cy="622.7" r="6.5"/><circle cx="1211.6" cy="490.1" r="6.5"/><circle cx="1340.5" cy="472.9" r="6.5"/><circle cx="1546.7" cy="437.4" r="6.5"/><circle cx="1727.2" cy="447.8" r="6.5"/></g>

<!-- Annotations -->
<g class="t" font-size="27">
<text x="1222" y="311">**</text>
<text x="1349" y="423">**</text>
<text x="1554" y="422">**</text>
<text x="1554" y="446.5">**</text>
<text x="1697" y="448">**</text>
</g>
<text class="t" x="1513" y="437" font-size="19">#</text>
<path d="M1533 418 H1527 V442 H1533" fill="none" stroke="#000" stroke-width="1.3"/>
</svg>
</body></html>
